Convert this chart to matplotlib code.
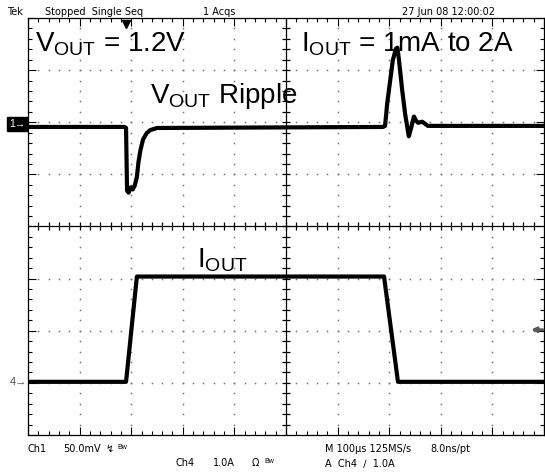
import numpy as np
import matplotlib
matplotlib.use("Agg")
import matplotlib.pyplot as plt

# channel 1: output voltage ripple (time in us from trigger, mV)
v_time = [-190, -3, 0, 2, 5, 9, 13, 17, 21, 24, 28, 33, 40, 47, 60,
          498, 502, 506, 512, 517, 523, 526, 529, 535, 541, 545, 548,
          552, 558, 562, 566, 574, 585, 810]
v_ripple = [-2, -2, -3, -63, -65, -60, -62, -58, -50, -36, -24, -14, -8, -5, -3,
            -2, -1, 20, 43, 62, 73, 74, 62, 34, 10, -2, -11,
            -4, 8, 4, 2, 3, -1, -1]

# channel 4: load current (time in us, A)
i_time = [-190, 0, 21, 500, 527, 810]
i_load = [0, 0, 2.02, 2.02, 0, 0]

v_scale = 50.0       # mV/div
i_scale = 1.0        # A/div
t_scale = 100.0      # us/div
v_ground = 5.95      # div from bottom
i_ground = 1.02
t_trigger = 1.9      # div from left
trig_level = 1.0     # A

W, H = 545, 473
plt.rcParams["font.family"] = ["Liberation Sans", "DejaVu Sans"]
plt.rcParams["mathtext.fontset"] = "custom"
plt.rcParams["mathtext.rm"] = "Liberation Sans"
plt.rcParams["mathtext.it"] = "Liberation Sans"
plt.rcParams["mathtext.default"] = "regular"

fig = plt.figure(figsize=(W / 100, H / 100), dpi=100)
pos = [28 / W, (H - 435) / H, 516 / W, 417 / H]


def fpx(x, y):
    return x / W, 1 - y / H


# graticule, in divisions
ax = fig.add_axes(pos)
ax.set_xlim(0, 10)
ax.set_ylim(0, 8)
ax.set_xticks(range(11))
ax.set_yticks(range(9))
ax.set_xticks(np.arange(0, 10.01, 0.2), minor=True)
ax.set_yticks(np.arange(0, 8.01, 0.2), minor=True)
ax.tick_params(which="both", direction="in", top=True, right=True,
               labelbottom=False, labelleft=False, width=0.8, color="black")
ax.tick_params(which="major", length=5.5)
ax.tick_params(which="minor", length=2.8)
for s in ax.spines.values():
    s.set_linewidth(0.9)

minor = np.arange(0.2, 10, 0.2)
for i in [1, 2, 3, 4, 6, 7, 8, 9]:
    ys = np.arange(0.2, 8, 0.2)
    ax.plot(np.full_like(ys, i), ys, "s", ms=1.1, color="0.45", mew=0)
for j in [1, 2, 3, 5, 6, 7]:
    xs = np.arange(0.2, 10, 0.2)
    ax.plot(xs, np.full_like(xs, j), "s", ms=1.1, color="0.45", mew=0)
ax.axhline(4, color="black", lw=0.9)
ax.axvline(5, color="black", lw=0.9)
ax.plot(minor, np.full_like(minor, 4), "|", ms=6, mew=0.9, color="black")
ym = np.arange(0.2, 8, 0.2)
ax.plot(np.full_like(ym, 5), ym, "_", ms=6, mew=0.9, color="black")

# traces
t_lim = (-t_trigger * t_scale, (10 - t_trigger) * t_scale)
ax_v = fig.add_axes(pos, frameon=False)
ax_v.set_xlim(*t_lim)
ax_v.set_ylim(-v_ground * v_scale, (8 - v_ground) * v_scale)
ax_v.axis("off")
ax_v.plot(v_time, v_ripple, color="black", lw=3.0, solid_joinstyle="round")

ax_i = fig.add_axes(pos, frameon=False)
ax_i.set_xlim(*t_lim)
ax_i.set_ylim(-i_ground * i_scale, (8 - i_ground) * i_scale)
ax_i.axis("off")
ax_i.plot(i_time, i_load, color="black", lw=3.0, solid_joinstyle="round")

# channel markers
ax_v.annotate("1\u2192", xy=(0, 0), xycoords=("axes fraction", "data"),
              xytext=(-8, 0.5), textcoords="offset points", color="white",
              fontsize=7.5, va="center", ha="center", annotation_clip=False,
              bbox=dict(boxstyle="square,pad=0.2", fc="black", ec="black"))
ax_i.annotate("4\u2192", xy=(0, 0), xycoords=("axes fraction", "data"),
              xytext=(-7, 0), textcoords="offset points", color="0.3",
              fontsize=8, va="center", ha="center", annotation_clip=False)
ax_i.annotate("", xy=(0.975, trig_level), xycoords=("axes fraction", "data"),
              xytext=(0.998, trig_level), textcoords=("axes fraction", "data"),
              arrowprops=dict(arrowstyle="-|>", color="0.35", lw=2.0,
                              mutation_scale=7, shrinkA=0, shrinkB=0),
              annotation_clip=False)
ax_v.plot([0], [0.985], marker="v", ms=5.5, color="black",
          transform=ax_v.get_xaxis_transform(), clip_on=False)

# big annotations
big = dict(fontsize=20, color="black", family="Liberation Sans")
fig.text(*fpx(35, 51), r"$V_{OUT}$ = 1.2V", va="baseline", **big)
fig.text(*fpx(301, 51), r"$I_{OUT}$ = 1mA to 2A", va="baseline", **big)
fig.text(*fpx(150, 103), r"$V_{OUT}$ Ripple", va="baseline", **big)
fig.text(*fpx(197, 267), r"$I_{OUT}$", va="baseline", **big)

# header and footer
small = dict(fontsize=7, color="black",
             family=["Liberation Sans Narrow", "DejaVu Sans"], va="center")
fig.text(*fpx(7, 12), "Tek", **small)
fig.text(*fpx(45, 12), "Stopped  Single Seq", **small)
fig.text(*fpx(203, 12), "1 Acqs", **small)
fig.text(*fpx(402, 12), "27 Jun 08 12:00:02", **small)

fig.text(*fpx(28, 449), "Ch1", **small)
fig.text(*fpx(63, 449), "50.0mV", **small)
fig.text(*fpx(106, 449), "\u21AF", **small)
fig.text(*fpx(117, 447), "Bw", fontsize=5, color="black", va="center")
fig.text(*fpx(325, 449), "M 100\u00b5s 125MS/s", **small)
fig.text(*fpx(430, 449), "8.0ns/pt", **small)
fig.text(*fpx(176, 463), "Ch4", **small)
fig.text(*fpx(213, 463), "1.0A", **small)
fig.text(*fpx(252, 463), "\u03a9", **small)
fig.text(*fpx(264, 461), "Bw", fontsize=5, color="black", va="center")
fig.text(*fpx(325, 463), "A  Ch4  \u2215  1.0A", **small)

fig.savefig("out.png", dpi=100)
